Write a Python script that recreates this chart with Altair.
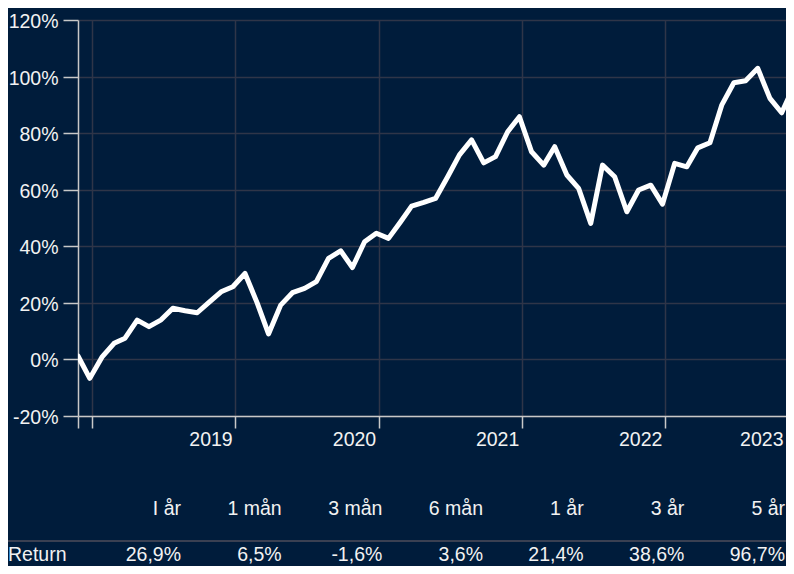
import altair as alt
import pandas as pd

# ---------------- data ----------------
# monthly observation dates (5 years, Nov 2018 - Nov 2023)
dates = [f"{y}-{m:02d}-26" for y in range(2018, 2024) for m in range(1, 13)
         if (2018, 11) <= (y, m) <= (2023, 11)]
# cumulative return in %
values = [1.2, -6.7, 0.8, 5.7, 7.5, 13.9, 11.6, 14.0, 18.1, 17.2, 16.5, 20.2,
          23.9, 25.7, 30.4, 20.0, 9.0, 19.2, 23.6, 25.1, 27.5, 35.7, 38.4, 32.5,
          41.6, 44.6, 42.8, 48.7, 54.2, 55.5, 56.9, 64.6, 72.3, 77.6, 69.5, 71.7,
          80.5, 85.8, 73.4, 68.7, 75.2, 65.2, 60.5, 48.1, 68.7, 64.6, 52.2, 59.9,
          61.6, 54.9, 69.3, 68.1, 74.8, 76.6, 89.9, 97.8, 98.5, 102.9, 92.3, 87.2,
          96.7]

y_ticks = [-20, 0, 20, 40, 60, 80, 100, 120]
x_start, x_end = "2018-11-26", "2023-11-06"   # visible window of the x axis
x_tick_dates = [x_start, "2019-01-01", "2020-01-01", "2021-01-01",
                "2022-01-01", "2023-01-01", x_end]
x_tick_labels = ["", "", "2019", "2020", "2021", "2022", "2023"]

periods = ["I år", "1 mån", "3 mån", "6 mån", "1 år", "3 år", "5 år"]
returns = ["26,9%", "6,5%", "-1,6%", "3,6%", "21,4%", "38,6%", "96,7%"]
row_label = "Return"

# ---------------- style ----------------
BG = "#001c3b"
GRID = "#2f3548"
AXIS = "#c8c8c8"
TXT = "#f2f2f2"
SEP = "#3a4052"
FONT = "Liberation Sans"
FS = 19.5
W, H = 708, 396
PAD = {"left": 70, "top": 12, "right": 0, "bottom": 150}

df = pd.DataFrame({"date": dates, "value": values})


def ms(d):
    return int(pd.Timestamp(d, tz="UTC").value // 1_000_000)


def dt(d):
    return alt.DateTime(year=int(d[:4]), month=int(d[5:7]), date=int(d[8:10]), utc=True)


tick_ms = [ms(d) for d in x_tick_dates]
label_expr = "''"
for t, lab in zip(reversed(tick_ms), reversed(x_tick_labels)):
    label_expr = f"(datum.value == {t} ? '{lab}' : {label_expr})"
hidden_grid = f"datum.value == {tick_ms[0]} || datum.value == {tick_ms[-1]}"
hidden_tick = f"datum.value == {tick_ms[-1]}"

x_axis = alt.Axis(
    values=[dt(d) for d in x_tick_dates],
    labelExpr=label_expr,
    labelAlign="right",
    labelBaseline="top",
    labelOffset=-3,
    labelPadding=2,
    labelFlush=False,
    labelOverlap=False,
    labelBound=False,
    labelFont=FONT, labelFontSize=FS, labelColor=TXT,
    tickSize=12, tickWidth=1.5,
    tickColor={"condition": {"test": hidden_tick, "value": "transparent"}, "value": AXIS},
    grid=True, gridWidth=1.5,
    gridColor={"condition": {"test": hidden_grid, "value": "transparent"}, "value": GRID},
    domainColor=AXIS, domainWidth=1.5,
    title=None,
)

y_axis = alt.Axis(
    values=y_ticks,
    labelExpr="datum.value + '%'",
    labelPadding=5,
    labelOffset=1.5,
    labelFont=FONT, labelFontSize=FS, labelColor=TXT,
    tickSize=15, tickColor=AXIS, tickWidth=1.5,
    grid=True, gridColor=GRID, gridWidth=1.5,
    domainColor=AXIS, domainWidth=1.5,
    title=None,
)

line = alt.Chart(df).mark_line(
    color="#ffffff", strokeWidth=5, strokeCap="round", strokeJoin="round", clip=True
).encode(
    x=alt.X("date:T", axis=x_axis,
            scale=alt.Scale(type="utc", domain=[dt(x_start), dt(x_end)])),
    y=alt.Y("value:Q", axis=y_axis,
            scale=alt.Scale(domain=[-20, 120], nice=False, zero=False)),
)

# ---------------- table under the plot ----------------
tbl = pd.DataFrame({
    "row": ["hdr"] * len(periods) + [row_label] * len(periods),
    "col": periods + periods,
    "text": periods + returns,
})
lbl = pd.DataFrame({"row": [row_label], "text": [row_label]})

yscale = alt.Scale(type="point", domain=["hdr", row_label], range=[495, 541], padding=0)

cells = alt.Chart(tbl).mark_text(
    align="right", baseline="alphabetic", font=FONT, fontSize=FS, color=TXT
).encode(
    x=alt.X("col:O", scale=alt.Scale(type="point", domain=periods, range=[103, 707], padding=0),
            axis=None),
    y=alt.Y("row:O", scale=yscale, axis=None),
    text="text:N",
)

row_names = alt.Chart(lbl).mark_text(
    align="left", baseline="alphabetic", font=FONT, fontSize=FS, color=TXT
).encode(
    x=alt.value(-70),
    y=alt.Y("row:O", scale=yscale, axis=None),
    text="text:N",
)

sep = alt.Chart(lbl).mark_rule(color=SEP, strokeWidth=2).encode(
    x=alt.value(-70), x2=alt.value(W), y=alt.value(521)
)

chart = alt.layer(line, sep, cells, row_names).resolve_scale(
    x="independent", y="independent"
).properties(
    width=W, height=H,
    padding=PAD,
    autosize=alt.AutoSizeParams(type="none"),
    background=BG,
).configure(font=FONT).configure_view(stroke="transparent")

chart.save("out.html", embed_options={"renderer": "svg", "actions": False})
